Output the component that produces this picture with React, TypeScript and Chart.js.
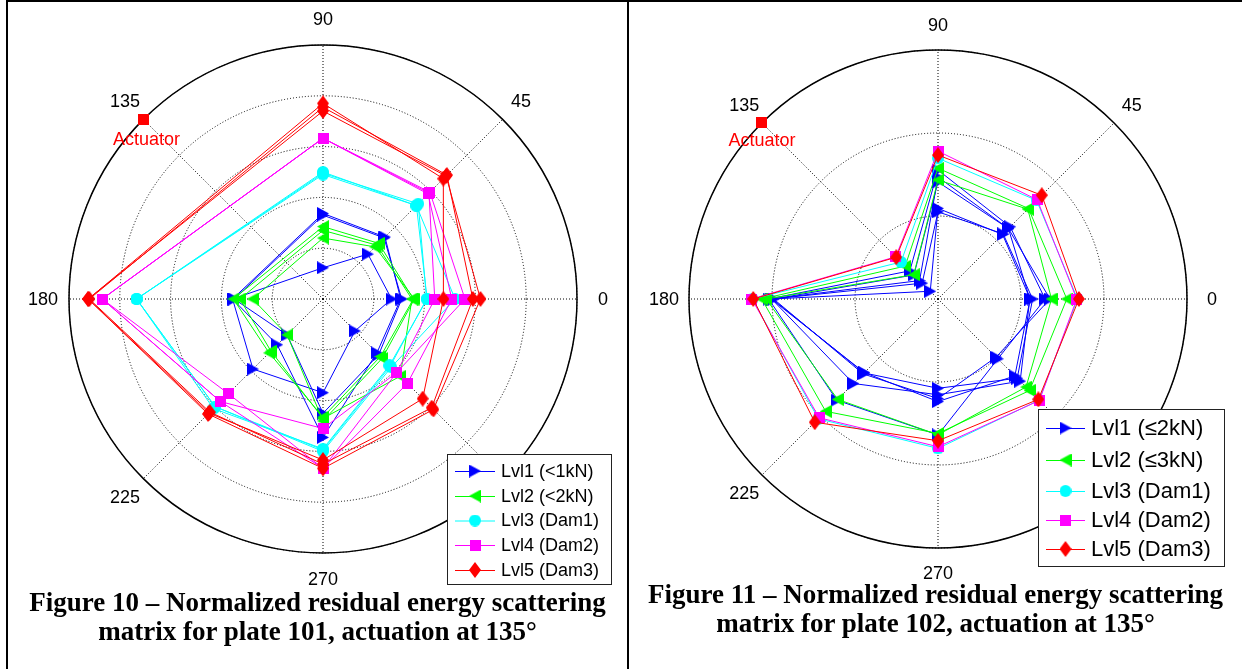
import React, { useEffect, useRef } from 'react';
import { Chart, registerables } from 'chart.js';

Chart.register(...registerables);

// Polar angles (deg, counter-clockwise from 0 = right), order of every value row below
const ANGLES = [0, 45, 90, 135, 180, 225, 270, 315];
// Radar scale order (clockwise from the top)
const RADAR_ANGLES = [90, 45, 0, 315, 270, 225, 180, 135];
const ACTUATOR_ANGLE = 135;

const LEVELS_101 = ['Lvl1 (<1kN)', 'Lvl2 (<2kN)', 'Lvl3 (Dam1)', 'Lvl4 (Dam2)', 'Lvl5 (Dam3)'];
const LEVELS_102 = ['Lvl1 (\u22642kN)', 'Lvl2 (\u22643kN)', 'Lvl3 (Dam1)', 'Lvl4 (Dam2)', 'Lvl5 (Dam3)'];
const LEVEL_COLORS = ['#0000ff', '#00ff00', '#00ffff', '#ff00ff', '#ff0000'];
const LEVEL_MARKERS = ['triRight', 'triLeft', 'circle', 'square', 'diamond'];

const R_MAX_101 = 1;
const R_STEP_101 = 0.2;
const R_MAX_102 = 1.5;
const R_STEP_102 = 0.5;

// Plate 101 (no reading at the actuator angle 135)
const P101_LVL1 = [
  [0.27, 0.25, 0.123, null, 0.356, 0.39, 0.369, 0.178],
  [0.306, 0.345, 0.337, null, 0.356, 0.255, 0.545, 0.3],
  [0.31, 0.34, 0.33, null, 0.35, 0.2, 0.45, 0.31],
];
const P101_LVL2 = [
  [0.356, 0.31, 0.285, null, 0.353, 0.3, 0.465, 0.32],
  [0.35, 0.3, 0.27, null, 0.327, 0.29, 0.47, 0.43],
  [0.36, 0.29, 0.24, null, 0.277, 0.2, 0.48, 0.33],
];
const P101_LVL3 = [
  [0.408, 0.53, 0.495, null, 0.734, 0.6, 0.594, 0.374],
  [0.41, 0.52, 0.49, null, 0.734, 0.61, 0.59, 0.37],
  [0.52, 0.52, 0.5, null, 0.734, 0.6, 0.6, 0.38],
];
const P101_LVL4 = [
  [0.44, 0.59, 0.633, null, 0.869, 0.571, 0.51, 0.41],
  [0.507, 0.585, 0.633, null, 0.869, 0.527, 0.667, 0.47],
  [0.559, 0.595, 0.633, null, 0.869, 0.571, 0.667, 0.41],
];
const P101_LVL5 = [
  [0.474, 0.67, 0.77, null, 0.924, 0.635, 0.634, 0.555],
  [0.59, 0.69, 0.755, null, 0.92, 0.63, 0.65, 0.605],
  [0.62, 0.685, 0.74, null, 0.925, 0.64, 0.667, 0.615],
];

// Plate 102
const P102_LVL1 = [
  [0.645, 0.615, 0.777, 0.24, 1.02, 0.862, 0.819, 0.51],
  [0.553, 0.6, 0.735, 0.157, 1.002, 0.72, 0.577, 0.7],
  [0.555, 0.55, 0.546, 0.066, 1.005, 0.627, 0.618, 0.655],
  [0.57, 0.555, 0.525, 0.135, 0.998, 0.63, 0.538, 0.675],
  [0.675, 0.6, 0.705, 0.205, 0.99, 0.638, 0.6, 0.495],
];
const P102_LVL2 = [
  [0.776, 0.771, 0.788, 0.28, 1.062, 0.957, 0.81, 0.78],
  [0.684, 0.765, 0.717, 0.207, 1.035, 0.855, 0.818, 0.75],
];
const P102_LVL3 = [[0.84, 0.84, 0.848, 0.315, 1.118, 1.02, 0.9, 0.862]];
const P102_LVL4 = [[0.836, 0.845, 0.891, 0.36, 1.122, 1.012, 0.89, 0.864]];
const P102_LVL5 = [[0.849, 0.884, 0.867, 0.356, 1.113, 1.05, 0.854, 0.855]];

const FONT = "'Liberation Sans', Arial, sans-serif";

function makeMarker(shape: string, color: string, w: number, h: number): HTMLCanvasElement {
  const c = document.createElement('canvas');
  c.width = w;
  c.height = h;
  const g = c.getContext('2d')!;
  g.fillStyle = color;
  g.beginPath();
  if (shape === 'triRight') {
    g.moveTo(0, 0);
    g.lineTo(w, h / 2);
    g.lineTo(0, h);
  } else if (shape === 'triLeft') {
    g.moveTo(w, 0);
    g.lineTo(0, h / 2);
    g.lineTo(w, h);
  } else if (shape === 'circle') {
    g.arc(w / 2, h / 2, w / 2, 0, Math.PI * 2);
  } else if (shape === 'square') {
    g.rect(0, 0, w, h);
  } else {
    g.moveTo(w / 2, 0);
    g.lineTo(w, h / 2);
    g.lineTo(w / 2, h);
    g.lineTo(0, h / 2);
  }
  g.closePath();
  g.fill();
  return c;
}

const MARKER_SIZES: Record<string, [number, number]> = {
  triRight: [12, 13],
  triLeft: [12, 13],
  circle: [12, 12],
  square: [11, 11],
  diamond: [12, 16],
};

const toRadar = (vals: (number | null)[]) => RADAR_ANGLES.map((a) => vals[ANGLES.indexOf(a)]);

const polarDecor = {
  id: 'polarDecor',
  beforeDatasetsDraw(chart: any, _args: any, opts: any) {
    const r = chart.scales.r;
    const ctx = chart.ctx;
    ctx.save();
    ctx.setLineDash([]);
    ctx.strokeStyle = '#000';
    ctx.lineWidth = 1.5;
    ctx.beginPath();
    ctx.arc(r.xCenter, r.yCenter, r.drawingArea, 0, Math.PI * 2);
    ctx.stroke();
    ctx.fillStyle = '#000';
    ctx.font = `${opts.labelSize}px ${FONT}`;
    ctx.textAlign = 'center';
    ctx.textBaseline = 'middle';
    chart.data.labels.forEach((lab: string, i: number) => {
      const p = r.getPointPosition(i, r.drawingArea + opts.labelGap);
      ctx.fillText(lab, p.x, p.y + 1);
    });
    ctx.restore();
  },
  afterDatasetsDraw(chart: any, _args: any, opts: any) {
    const r = chart.scales.r;
    const ctx = chart.ctx;
    ctx.save();
    // actuator caption
    const ai = RADAR_ANGLES.indexOf(ACTUATOR_ANGLE);
    const ap = r.getPointPosition(ai, r.drawingArea);
    ctx.fillStyle = '#ff0000';
    ctx.font = `18px ${FONT}`;
    ctx.textAlign = 'center';
    ctx.textBaseline = 'middle';
    ctx.fillText('Actuator', ap.x + opts.actDx, ap.y + opts.actDy);
    // legend
    const L = opts.legend;
    ctx.fillStyle = '#fff';
    ctx.fillRect(L.x, L.y, L.w, L.h);
    ctx.strokeStyle = '#222';
    ctx.lineWidth = 1;
    ctx.strokeRect(L.x + 0.5, L.y + 0.5, L.w, L.h);
    ctx.font = `${L.font}px ${FONT}`;
    ctx.textAlign = 'left';
    ctx.textBaseline = 'middle';
    opts.labels.forEach((lab: string, i: number) => {
      const y = L.rows[i];
      ctx.strokeStyle = LEVEL_COLORS[i];
      ctx.lineWidth = 1;
      ctx.beginPath();
      ctx.moveTo(L.x0, y + 0.5);
      ctx.lineTo(L.x1, y + 0.5);
      ctx.stroke();
      const m = opts.markers[i];
      ctx.drawImage(m, (L.x0 + L.x1) / 2 - m.width / 2, y - m.height / 2);
      ctx.fillStyle = '#000';
      ctx.fillText(lab, L.tx, y + 1);
    });
    ctx.restore();
  },
};

function buildConfig(p: any): any {
  const markers = LEVEL_MARKERS.map((s, i) => makeMarker(s, LEVEL_COLORS[i], MARKER_SIZES[s][0], MARKER_SIZES[s][1]));
  const datasets: any[] = [];
  p.levels.forEach((reps: (number | null)[][], li: number) => {
    reps.forEach((vals, k) => {
      datasets.push({
        label: `${p.labels[li]} #${k + 1}`,
        data: toRadar(vals),
        borderColor: LEVEL_COLORS[li],
        backgroundColor: LEVEL_COLORS[li],
        borderWidth: 1,
        pointStyle: markers[li],
        pointRadius: 5,
        fill: false,
        spanGaps: true,
        tension: 0,
        order: 5 - li,
      });
    });
  });
  datasets.push({
    label: 'Actuator',
    data: RADAR_ANGLES.map((a) => (a === ACTUATOR_ANGLE ? p.rMax : null)),
    showLine: false,
    borderWidth: 0,
    pointStyle: makeMarker('square', '#ff0000', 11, 11),
    pointRadius: 5,
    fill: false,
    order: 0,
  });
  return {
    type: 'radar',
    data: { labels: RADAR_ANGLES.map(String), datasets },
    options: {
      responsive: false,
      animation: false,
      events: [],
      layout: { padding: p.pad },
      plugins: {
        legend: { display: false },
        tooltip: { enabled: false },
        title: { display: false },
        polarDecor: {
          labelSize: 18,
          labelGap: p.labelGap,
          actDx: p.actDx,
          actDy: p.actDy,
          labels: p.labels,
          markers,
          legend: p.legend,
        },
      },
      scales: {
        r: {
          min: 0,
          max: p.rMax,
          startAngle: 0,
          ticks: { display: false, stepSize: p.rStep },
          grid: { display: true, circular: true, color: '#000', lineWidth: 1 },
          border: { dash: [1, 2] },
          angleLines: { display: true, color: '#000', lineWidth: 1, borderDash: [1, 2] },
          pointLabels: { display: false },
        },
      },
    },
    plugins: [polarDecor],
  };
}

const PLOT_101 = {
  levels: [P101_LVL1, P101_LVL2, P101_LVL3, P101_LVL4, P101_LVL5],
  labels: LEVELS_101,
  rMax: R_MAX_101,
  rStep: R_STEP_101,
  pad: 44,
  labelGap: 26,
  actDx: 3,
  actDy: 21,
  legend: { x: 422, y: 453, w: 164, h: 130, rows: [470, 495, 519.5, 544, 569], x0: 430, x1: 470, tx: 476, font: 18 },
};

const PLOT_102 = {
  levels: [P102_LVL1, P102_LVL2, P102_LVL3, P102_LVL4, P102_LVL5],
  labels: LEVELS_102,
  rMax: R_MAX_102,
  rStep: R_STEP_102,
  pad: 44,
  labelGap: 25,
  actDx: 0,
  actDy: 18,
  legend: { x: 393, y: 403, w: 186, h: 157, rows: [422, 454, 485, 514, 543], x0: 401, x1: 440, tx: 446, font: 22 },
};

function PolarPanel({ plot, left, top, size }: { plot: any; left: number; top: number; size: number }) {
  const ref = useRef<HTMLCanvasElement>(null);
  useEffect(() => {
    const chart = new Chart(ref.current!, buildConfig(plot));
    return () => chart.destroy();
  }, [plot]);
  return (
    <canvas
      ref={ref}
      width={size}
      height={size}
      style={{ position: 'absolute', left, top, width: size, height: size }}
    />
  );
}

const captionStyle: React.CSSProperties = {
  position: 'absolute',
  fontFamily: "'Liberation Serif', 'Times New Roman', serif",
  fontWeight: 'bold',
  fontSize: 27,
  lineHeight: '29px',
  textAlign: 'center',
  color: '#000',
  whiteSpace: 'nowrap',
};

export default function App() {
  return (
    <div style={{ position: 'absolute', left: 0, top: 0, width: 1242, height: 669, background: '#fff', overflow: 'hidden' }}>
      <div style={{ position: 'absolute', left: 6, top: 0, width: 1236, height: 1.5, background: '#000' }} />
      <div style={{ position: 'absolute', left: 6, top: 0, width: 1.5, height: 669, background: '#000' }} />
      <div style={{ position: 'absolute', left: 627, top: 0, width: 2, height: 669, background: '#000' }} />
      <PolarPanel plot={PLOT_101} left={25} top={1} size={596} />
      <PolarPanel plot={PLOT_102} left={645} top={6} size={586} />
      <div style={{ ...captionStyle, left: 8, width: 619, top: 588 }}>
        Figure 10 – Normalized residual energy scattering
        <br />
        matrix for plate 101, actuation at 135°
      </div>
      <div style={{ ...captionStyle, left: 629, width: 613, top: 580 }}>
        Figure 11 – Normalized residual energy scattering
        <br />
        matrix for plate 102, actuation at 135°
      </div>
    </div>
  );
}
